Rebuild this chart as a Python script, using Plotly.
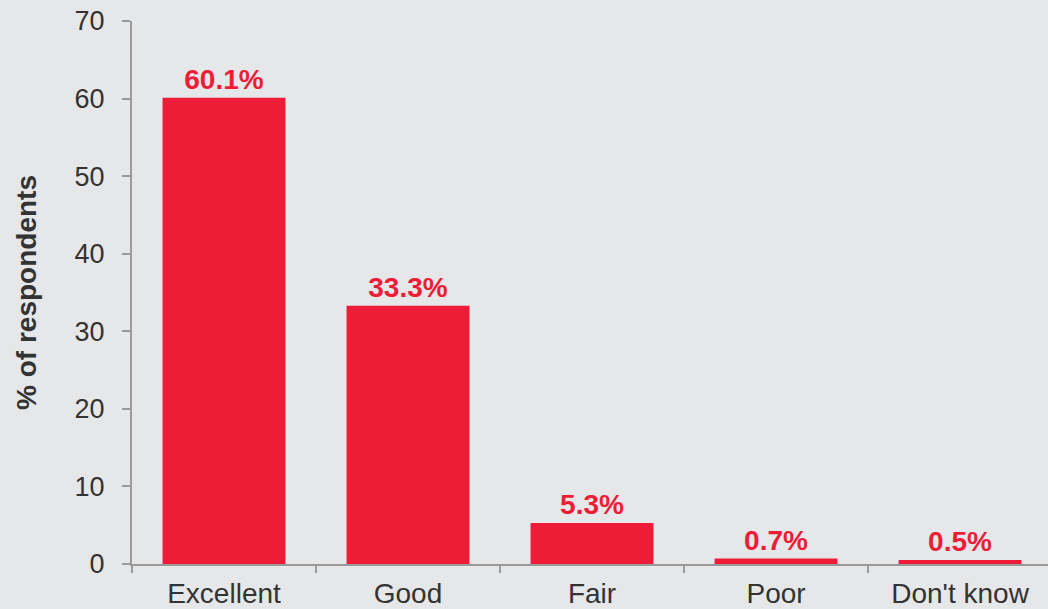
import plotly.graph_objects as go

categories = ["Excellent", "Good", "Fair", "Poor", "Don't know"]
values = [60.1, 33.3, 5.3, 0.7, 0.5]
labels = ["60.1%", "33.3%", "5.3%", "0.7%", "0.5%"]

BG = "#e6e7e9"
RED = "#ee1c37"
AXIS = "#9a9a9a"
FONT = "Liberation Sans, Arial, sans-serif"

fig = go.Figure()
fig.add_trace(
    go.Bar(
        x=categories,
        y=values,
        text=labels,
        textposition="outside",
        textfont={"family": FONT, "size": 28, "color": RED, "weight": "bold"},
        marker={"color": RED, "line": {"width": 0}},
        width=0.668,
        cliponaxis=False,
        hoverinfo="skip",
    )
)

fig.update_layout(
    width=1048,
    height=609,
    margin={"l": 132, "r": 0, "t": 21, "b": 45},
    paper_bgcolor=BG,
    plot_bgcolor=BG,
    showlegend=False,
    font={"family": FONT, "color": "#333333"},
)

# plot area runs a little past the right edge of the page
fig.update_xaxes(
    range=[-0.5, 4.478],
    automargin=False,
    showline=True,
    linecolor=AXIS,
    linewidth=2,
    ticks="outside",
    tickson="boundaries",
    ticklen=7,
    tickcolor=AXIS,
    tickwidth=2,
    tickfont={"size": 28, "color": "#333333"},
    ticklabelstandoff=3,
    showgrid=False,
    zeroline=False,
)

fig.update_yaxes(
    range=[0, 70],
    dtick=10,
    automargin=False,
    showline=True,
    linecolor=AXIS,
    linewidth=2,
    ticks="outside",
    ticklen=8,
    tickcolor=AXIS,
    tickwidth=2,
    tickfont={"size": 27, "color": "#333333"},
    ticklabelstandoff=12,
    showgrid=False,
    zeroline=False,
    title={
        "text": "<b>% of respondents</b>",
        "font": {"size": 28, "color": "#333333"},
        "standoff": 30,
    },
)

fig.write_html(
    "out.html",
    config={"displayModeBar": False},
    post_script="document.body.style.margin='0';document.body.style.background='#e6e7e9';",
)
